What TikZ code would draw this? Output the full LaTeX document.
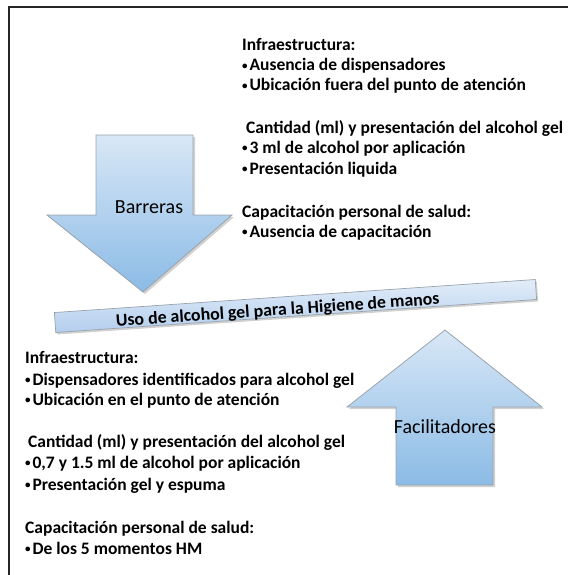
\documentclass[tikz,border=0pt]{standalone}
\usepackage{fontspec}
\setmainfont{Carlito}
\definecolor{arrowtop}{HTML}{D8E7F6}
\definecolor{arrowbot}{HTML}{8BBBE6}
\definecolor{bantop}{HTML}{E2EDF8}
\definecolor{banbot}{HTML}{B3CEEE}
\definecolor{edgegray}{HTML}{9AA3AC}
\newcommand{\mybul}{\makebox[0.42em][l]{\fontsize{11}{11}\selectfont\raisebox{0.12em}{•}}}
\tikzset{
  arrowshape/.style={draw=edgegray, line width=0.8pt, top color=arrowtop, bottom color=arrowbot},
  shadowshape/.style={fill=black, opacity=0.18},
  txt/.style={anchor=base west, inner sep=0pt, font=\bfseries\fontsize{17.5}{20}\selectfont},
  arrowlabel/.style={inner sep=0pt, font=\fontsize{20}{24}\selectfont},
  frameline/.style={draw=black!85, line width=1.4pt}
}
\begin{document}
\begin{tikzpicture}[x=1pt,y=-1pt]
\useasboundingbox (0,0) rectangle (570,575);
% frame
\draw[frameline] (9,575) -- (9,7) -- (568,7);
% down arrow
\fill[shadowshape] (98,137) -- (195,137) -- (195,217) -- (234,217) -- (145,294) -- (49,217) -- (98,217) -- cycle;
\path[arrowshape] (96,135) -- (193,135) -- (193,215) -- (232,215) -- (143,292) -- (47,215) -- (96,215) -- cycle;
\node[arrowlabel] (barreras) at (149,207) {Barreras};
% up arrow
\fill[shadowshape] (447,332) -- (544,409) -- (495,409) -- (495,487) -- (398,487) -- (398,409) -- (349,409) -- cycle;
\path[arrowshape] (445,330) -- (542,407) -- (493,407) -- (493,485) -- (396,485) -- (396,407) -- (347,407) -- cycle;
\node[arrowlabel] (facil) at (445,427) {Facilitadores};
% banner
\node[rotate=3.93, minimum width=482pt, minimum height=20pt, inner sep=0pt, fill=black, opacity=0.18] (banshadow) at (297,308) {};
\node[rotate=3.93, minimum width=482pt, minimum height=20pt, inner sep=0pt, draw=edgegray, line width=0.7pt, top color=bantop, bottom color=banbot] (banner) at (295.5,306) {};
\node[rotate=3.93, anchor=base, inner sep=0pt, font=\bfseries\fontsize{17.8}{21}\selectfont] (bantext) at (278,315.5) {Uso de alcohol gel para la Higiene de manos};
% top right text
\node[txt] (t1) at (242,51) {Infraestructura:};
\node[txt] (t2) at (242,71) {\mybul Ausencia de dispensadores};
\node[txt] (t3) at (242,91) {\mybul Ubicación fuera del punto de atención};
\node[txt] (t4) at (246,133) {Cantidad (ml) y presentación del alcohol gel};
\node[txt] (t5) at (242,153) {\mybul 3 ml de alcohol por aplicación};
\node[txt] (t6) at (242,174) {\mybul Presentación liquida};
\node[txt] (t7) at (242,217) {Capacitación personal de salud:};
\node[txt] (t8) at (242,237) {\mybul Ausencia de capacitación};
% bottom left text
\node[txt] (b1) at (25,363) {Infraestructura:};
\node[txt] (b2) at (25,385) {\mybul Dispensadores identificados para alcohol gel};
\node[txt] (b3) at (25,405) {\mybul Ubicación en el punto de atención};
\node[txt] (b4) at (28,447) {Cantidad (ml) y presentación del alcohol gel};
\node[txt] (b5) at (25,468) {\mybul 0,7 y 1.5 ml de alcohol por aplicación};
\node[txt] (b6) at (25,490) {\mybul Presentación gel y espuma};
\node[txt] (b7) at (25,533) {Capacitación personal de salud:};
\node[txt] (b8) at (25,554) {\mybul De los 5 momentos HM};
\end{tikzpicture}
\end{document}
